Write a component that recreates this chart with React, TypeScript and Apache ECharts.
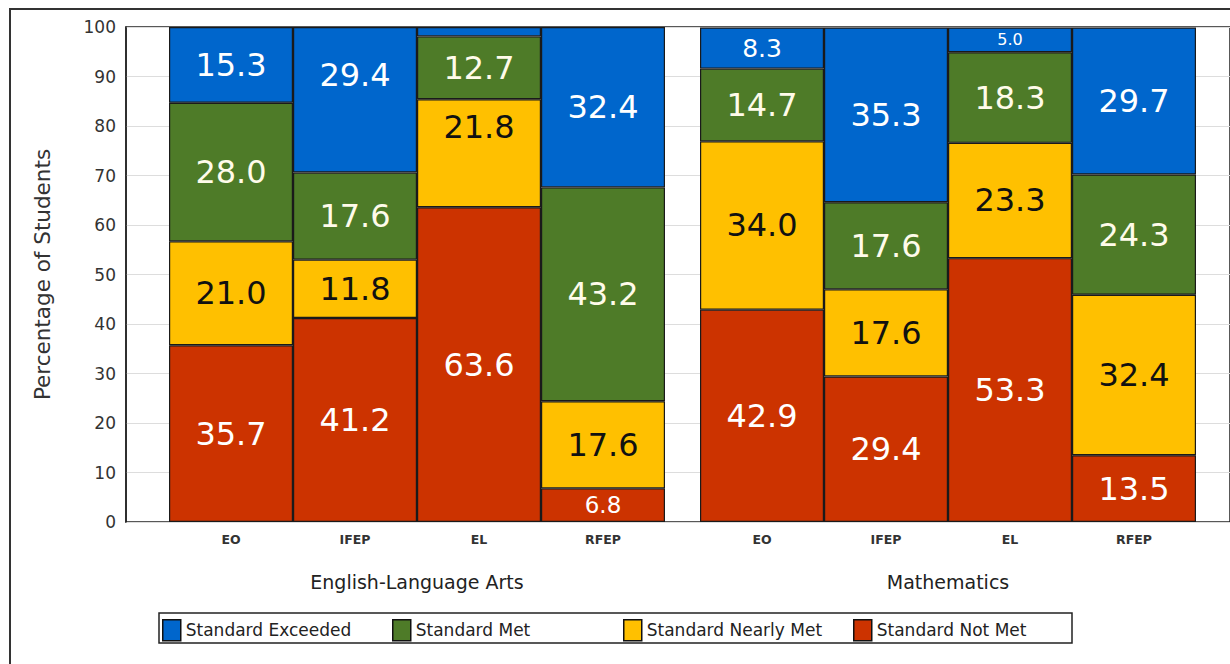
import React, { useEffect, useRef } from "react";
import * as echarts from "echarts";

const categories = ["EO", "IFEP", "EL", "RFEP"];
const subjects = ["English-Language Arts", "Mathematics"];
const levels = ["Standard Not Met", "Standard Nearly Met", "Standard Met", "Standard Exceeded"];
const legendOrder = ["Standard Exceeded", "Standard Met", "Standard Nearly Met", "Standard Not Met"];

const elaNotMet = [35.7, 41.2, 63.6, 6.8];
const elaNearlyMet = [21.0, 11.8, 21.8, 17.6];
const elaMet = [28.0, 17.6, 12.7, 43.2];
const elaExceeded = [15.3, 29.4, 1.9, 32.4];

const mathNotMet = [42.9, 29.4, 53.3, 13.5];
const mathNearlyMet = [34.0, 17.6, 23.3, 32.4];
const mathMet = [14.7, 17.6, 18.3, 24.3];
const mathExceeded = [8.3, 35.3, 5.0, 29.7];

const yMin = 0;
const yMax = 100;
const yInterval = 10;

const levelColors = ["#CC3300", "#FFC000", "#4E7B28", "#0066CC"];
const levelTextColors = ["#ffffff", "#111111", "#fffbea", "#ffffff"];
// label vertical nudges (px) keyed subject-category-level
const LABEL_NUDGES: Record<string, number> = { "0-1-3": -25, "0-2-1": -26 };
const LEGEND_LEFTS = [162, 392, 623, 853];

const FONT = "DejaVu Sans";

function labelSize(v: number) {
  if (v >= 10) return 32;
  if (v >= 8) return 25;
  if (v >= 6) return 23;
  return 16;
}

export default function App() {
  const ref = useRef<HTMLDivElement>(null);
  useEffect(() => {
    if (!ref.current) return;
    const chart = echarts.init(ref.current, undefined, { renderer: "svg" });
    const subjectData = [
      [elaNotMet, elaNearlyMet, elaMet, elaExceeded],
      [mathNotMet, mathNearlyMet, mathMet, mathExceeded],
    ];
    const series: any[] = [];
    subjectData.forEach((sd, s) => {
      sd.forEach((vals, l) => {
        series.push({
          type: "bar",
          name: levels[l],
          stack: "s" + s,
          xAxisIndex: s + 1,
          yAxisIndex: s + 1,
          barWidth: "100%",
          itemStyle: { color: levelColors[l], borderColor: "#1a1a1a", borderWidth: 1.2 },
          label: {
            show: true,
            position: "inside",
            color: levelTextColors[l],
            fontFamily: FONT,
            formatter: (p: any) => Number(p.value).toFixed(1),
          },
          data: vals.map((v, c) => ({
            value: v,
            label: {
              show: v >= 3,
              fontSize: labelSize(v),
              offset: [0, LABEL_NUDGES[`${s}-${c}-${l}`] || 0],
            },
          })),
        });
      });
    });

    const barGrid = (left: number) => ({ left, top: 27, width: 496, height: 495 });

    chart.setOption({
      animation: false,
      textStyle: { fontFamily: FONT },
      grid: [
        { left: 126, top: 27, width: 1140, height: 495, show: true, borderColor: "#222", borderWidth: 1.5 },
        barGrid(169),
        barGrid(700),
      ],
      xAxis: [
        { gridIndex: 0, type: "value", min: 0, max: 1, show: false },
        ...subjects.map((name, i) => ({
          gridIndex: i + 1,
          type: "category",
          data: categories,
          axisLine: { show: false },
          axisTick: { show: false },
          axisLabel: { fontSize: 12.5, fontWeight: "bold", color: "#333", margin: 11, fontFamily: FONT },
          name,
          nameLocation: "middle",
          nameGap: 50,
          nameTextStyle: { fontSize: 19, color: "#222", fontFamily: FONT },
        })),
      ],
      yAxis: [
        {
          gridIndex: 0,
          type: "value",
          min: yMin,
          max: yMax,
          interval: yInterval,
          axisLine: { show: true, lineStyle: { color: "#222", width: 1.5 } },
          axisTick: { show: false },
          axisLabel: { fontSize: 17, color: "#333", margin: 10, fontFamily: FONT },
          splitLine: { lineStyle: { color: "#dddddd", width: 1 } },
          name: "Percentage of Students",
          nameLocation: "middle",
          nameGap: 73,
          nameTextStyle: { fontSize: 21.5, color: "#333", fontFamily: FONT },
        },
        { gridIndex: 1, type: "value", min: yMin, max: yMax, show: false },
        { gridIndex: 2, type: "value", min: yMin, max: yMax, show: false },
      ],
      legend: legendOrder.map((name, i) => ({
        data: [{ name, icon: "rect" }],
        selectedMode: false,
        left: LEGEND_LEFTS[i],
        top: 619,
        orient: "horizontal",
        padding: 0,
        itemWidth: 18,
        itemHeight: 21,
        itemStyle: { borderColor: "#111", borderWidth: 1.5 },
        textStyle: { fontSize: 17, color: "#222", fontFamily: FONT },
      })),
      graphic: [
        {
          type: "rect",
          silent: true,
          shape: { x: 10, y: 9, width: 1300, height: 720 },
          style: { fill: "none", stroke: "#333", lineWidth: 2 },
        },
        {
          type: "rect",
          silent: true,
          z: -1,
          shape: { x: 159, y: 613, width: 913, height: 30 },
          style: { fill: "#fff", stroke: "#222", lineWidth: 1.5 },
        },
      ],
      series,
    });
    return () => chart.dispose();
  }, []);
  return (
    <div
      ref={ref}
      style={{ position: "fixed", left: 0, top: 0, width: 1230, height: 664, background: "#fff" }}
    />
  );
}
